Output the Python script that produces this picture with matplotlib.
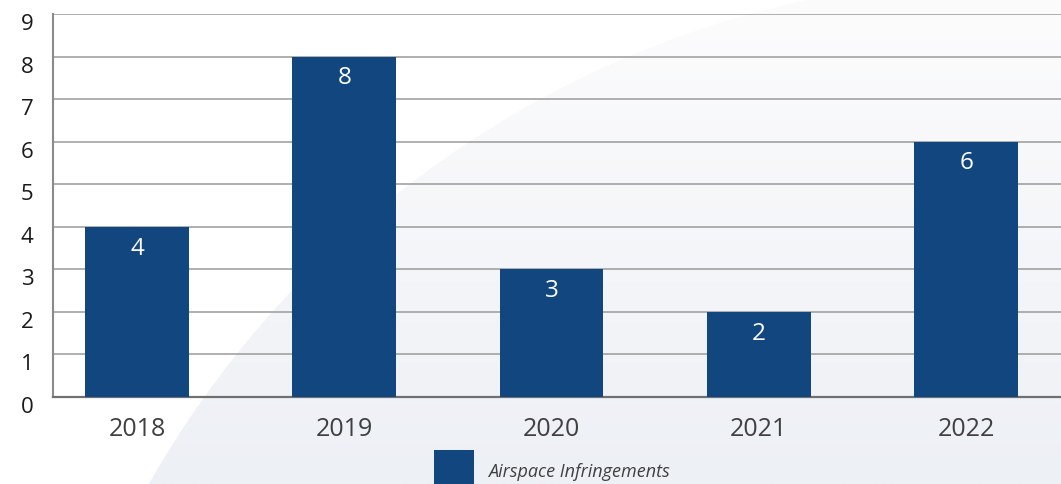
import numpy as np
import matplotlib
matplotlib.use("Agg")
import matplotlib.pyplot as plt
from matplotlib.patches import Circle, Rectangle
from matplotlib.colors import LinearSegmentedColormap
from matplotlib.transforms import ScaledTranslation

plt.rcParams['font.family'] = ['Open Sans', 'DejaVu Sans']

years = ["2018", "2019", "2020", "2021", "2022"]
infringements = [4, 8, 3, 2, 6]
series_name = "Airspace Infringements"
y_ticks = list(range(0, 10))

BAR_COLOR = "#12467f"
W, H = 1061, 485
fig = plt.figure(figsize=(W / 100, H / 100), dpi=100)
fig.patch.set_facecolor("white")

# soft decorative backdrop: a large pale disc with a vertical gradient
bg = fig.add_axes([0, 0, 1, 1], zorder=0)
bg.set_xlim(0, W)
bg.set_ylim(H, 0)
bg.axis("off")
cmap = LinearSegmentedColormap.from_list("haze", ["#fcfcfd", "#f5f6f9", "#edf0f5"])
grad = np.linspace(0, 1, 256).reshape(-1, 1)
img = bg.imshow(grad, cmap=cmap, extent=[0, W, H, 0], aspect="auto", zorder=0)
disc = Circle((1020, 980), 1002, transform=bg.transData, facecolor="none", edgecolor="none")
bg.add_patch(disc)
img.set_clip_path(disc)

ax = fig.add_axes([53 / W, (H - 398) / H, 1 - 53 / W, 383 / H], zorder=1)
ax.patch.set_alpha(0)

x = np.arange(len(years))
bars = ax.bar(x, infringements, width=0.5, color=BAR_COLOR, zorder=3)
for xi, v in zip(x, infringements):
    ax.annotate(str(v), (xi, v), xytext=(0, -15), textcoords="offset points",
                ha="center", va="center", color="white", fontsize=17.5, zorder=4)

ax.set_xlim(-0.405, 4.458)
ax.set_ylim(0, 9)
ax.set_yticks(y_ticks)
ax.set_yticklabels([str(t) for t in y_ticks])
ax.set_xticks(x)
ax.set_xticklabels(years)
ax.yaxis.grid(True, color="#9a9a9a", linewidth=1.1, zorder=1)
ax.set_axisbelow(True)
ax.tick_params(axis="both", length=0)
ax.tick_params(axis="y", pad=14, labelcolor="#1a1a1a", labelsize=16)
ax.tick_params(axis="x", pad=14, labelcolor="#404040", labelsize=18)
for lbl in ax.get_yticklabels():
    lbl.set_transform(lbl.get_transform() + ScaledTranslation(0, -7 / 100, fig.dpi_scale_trans))

for side in ("top", "right"):
    ax.spines[side].set_visible(False)
ax.spines["left"].set_color("#8a8a8a")
ax.spines["left"].set_linewidth(1.5)
ax.spines["bottom"].set_color("#707070")
ax.spines["bottom"].set_linewidth(1.6)

# legend swatch and label under the plot
fig.patches.append(Rectangle((434 / W, 0), 40 / W, 34 / H, transform=fig.transFigure,
                             facecolor=BAR_COLOR, edgecolor="none", zorder=2))
fig.text(488 / W, (H - 472) / H, series_name, ha="left", va="center",
         fontsize=13, style="italic", color="#404040")

fig.savefig("out.png", dpi=100)
